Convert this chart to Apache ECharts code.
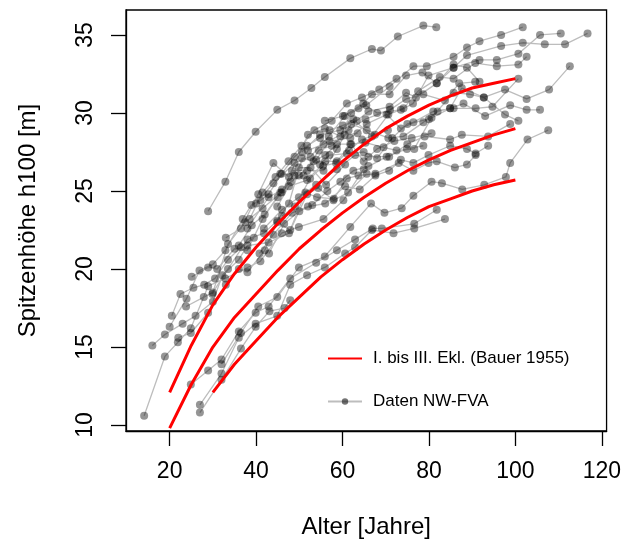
<!DOCTYPE html>
<html>
<head>
<meta charset="utf-8">
<script src="https://cdn.jsdelivr.net/npm/echarts@6/dist/echarts.min.js"></script>
<style>
  html, body { margin: 0; padding: 0; background: #fff; }
  #chart { width: 624px; height: 546px; }
</style>
</head>
<body>
<div id="chart"></div>
<script>
// tick labels
const xTicks = [20, 40, 60, 80, 100, 120];
const yTicks = [10, 15, 20, 25, 30, 35];

// Bauer (1955) Ertragsklassen I - III
const agesI = [20, 25, 30, 35, 40, 45, 50, 55, 60, 65, 70, 75, 80, 85, 90, 95, 100];
const hI = [12.1, 15.1, 17.7, 19.7, 21.4, 22.9, 24.3, 25.6, 26.9, 28.0, 29.0, 29.8, 30.5, 31.1, 31.6, 31.9, 32.2];
const agesII = [20, 25, 30, 35, 40, 45, 50, 55, 60, 65, 70, 75, 80, 85, 90, 95, 100];
const hII = [9.8, 12.6, 15.0, 16.9, 18.4, 19.9, 21.3, 22.5, 23.6, 24.6, 25.5, 26.3, 27.0, 27.6, 28.1, 28.6, 29.0];
const agesIII = [30, 35, 40, 45, 50, 55, 60, 65, 70, 75, 80, 85, 90, 95, 100];
const hIII = [12.1, 13.9, 15.4, 16.9, 18.2, 19.5, 20.6, 21.6, 22.5, 23.3, 24.0, 24.5, 25.0, 25.4, 25.7];

// Versuchsflaechen NW-FVA: [Alter, h100]
const plots = [
  [[28.9,23.7],[32.9,25.6],[36.0,27.5],[39.9,28.8],[44.9,30.2],[48.9,30.8],[52.8,31.6],[55.9,32.3],[61.8,33.5],[66.8,34.1],[68.9,34.0],[72.8,34.9],[78.7,35.6],[81.7,35.5]],
  [[14.1,10.6],[18.9,14.4],[21.9,15.3],[24.9,16.2],[28.9,18.9],[32.9,19.4],[38.0,20.1],[41.0,20.5],[45.9,22.3],[49.9,22.7],[55.6,23.2],[60.2,24.4],[64.9,26.4],[70.2,27.2],[74.9,27.7],[78.7,27.9]],
  [[16.0,15.1],[18.9,15.8],[23.0,16.5],[26.0,17.0],[30.0,17.9],[32.2,19.6],[36.0,20.6],[38.0,21.5],[42.9,21.7],[47.6,22.3],[51.8,24.8],[54.4,25.2],[57.9,24.4],[61.3,24.9],[65.6,26.1]],
  [[20.0,16.3],[23.9,18.1],[26.9,19.9],[30.0,20.3],[32.9,21.2],[36.9,23.2],[38.9,24.1],[41.0,24.4],[42.9,24.8],[45.9,26.1],[48.9,27.2],[51.8,27.9],[54.8,28.4],[57.0,28.9],[60.1,29.2],[63.3,29.5],[66.0,30.1],[70.9,30.4],[74.7,31.3],[77.0,31.0],[81.8,31.9],[85.7,32.9],[91.7,33.4],[95.7,33.4],[100.7,33.8],[105.7,35.0],[110.5,35.1]],
  [[23.8,17.6],[27.9,18.2],[30.0,18.5],[33.5,20.0],[38.0,21.9],[41.8,22.3],[44.9,23.1],[47.6,24.2],[50.6,27.1],[53.3,26.9],[56.0,27.3],[58.7,28.0],[61.8,28.0],[65.3,28.1],[69.5,27.8],[72.5,27.6],[76.6,27.7],[80.6,29.7],[85.7,31.3],[89.5,31.2],[92.7,31.0],[97.6,31.5],[102.6,30.9],[107.8,31.5],[112.6,33.0]],
  [[22.0,15.6],[24.9,15.9],[28.9,17.2],[33.0,19.0],[36.0,20.0],[38.0,19.8],[42.0,21.2],[44.9,23.0],[47.9,22.5],[51.4,24.9],[54.1,24.6],[58.0,24.5],[61.0,25.8],[63.7,26.0],[67.6,26.1],[73.0,26.8],[76.4,26.3],[79.9,26.8],[81.8,26.9],[86.0,26.5],[88.8,26.7],[90.8,27.3]],
  [[25.1,19.5],[28.9,20.1],[31.0,20.0],[35.0,21.3],[38.0,21.2],[41.5,23.2],[45.6,24.9],[49.9,26.5],[52.6,26.5],[56.2,25.4],[60.6,26.7]],
  [[29.9,18.4],[33.5,21.6],[37.5,23.0],[41.5,23.9],[45.9,24.9],[48.3,26.3],[51.8,26.3],[55.6,26.3],[58.7,27.7],[62.0,29.3],[65.6,28.9],[70.6,28.4],[74.1,28.5],[78.7,29.4],[82.0,30.1],[84.9,30.3],[87.6,31.6],[92.7,31.0],[97.6,29.9],[100.7,29.5]],
  [[33.0,22.0],[36.5,22.6],[40.5,24.8],[44.0,26.8],[47.6,25.9],[52.0,28.6],[55.9,29.0],[59.5,28.5],[62.0,30.0],[65.5,30.5],[70.9,31.7],[76.4,33.0],[79.5,33.0],[85.7,33.6],[88.8,34.2],[91.7,34.6],[96.7,35.0],[101.7,35.5]],
  [[40.0,24.2],[44.0,25.5],[48.9,26.8],[52.6,27.2],[56.8,28.5],[60.5,29.8],[64.8,30.6],[68.0,30.0],[73.5,30.2],[76.3,30.6],[79.9,32.4],[85.7,32.9],[88.8,33.7],[96.7,34.3],[101.7,34.5],[106.8,34.4],[111.5,34.4],[116.7,35.1]],
  [[38.0,22.6],[42.9,24.6],[46.0,25.1],[49.9,26.0],[53.9,27.0],[57.0,28.2],[61.8,28.4],[65.6,29.3],[70.2,29.9],[73.5,29.0],[76.4,29.4],[81.0,30.1],[85.7,30.3],[90.8,30.3],[94.7,30.4],[100.7,32.2]],
  [[41.8,22.6],[46.0,23.8],[49.9,24.6],[53.9,25.4],[58.7,26.4],[62.9,27.3],[66.0,27.2],[70.8,27.2],[75.0,28.0],[79.0,28.5],[84.9,28.3],[87.6,28.6],[93.7,28.5],[98.8,29.3]],
  [[44.9,24.0],[47.6,25.3],[51.8,25.7],[56.0,26.9],[58.7,26.9],[62.0,28.0],[64.9,26.9],[68.0,27.7],[72.0,28.2],[76.0,28.4],[80.6,28.7]],
  [[45.6,26.1],[48.9,26.0],[52.0,27.6],[55.6,28.0],[61.4,28.9],[65.3,29.6],[71.0,30.2],[74.7,30.9],[78.7,31.2],[83.7,30.8],[87.0,31.9],[90.7,32.0]],
  [[50.6,27.5],[54.8,28.6],[59.5,28.9],[62.5,29.6],[66.8,28.5],[70.6,29.9],[74.1,30.3],[77.5,31.4],[82.5,32.3],[85.7,32.2],[90.7,33.2],[95.7,33.0],[100.7,33.1],[102.6,33.6]],
  [[55.9,29.5],[60.1,29.8],[63.7,30.3],[66.8,31.2],[70.9,31.2],[74.7,32.4],[78.5,32.6],[81.8,31.9],[85.7,33.1],[88.8,32.9],[91.7,32.0]],
  [[54.8,26.7],[57.0,27.3],[61.0,27.4],[64.9,27.5],[68.0,27.1],[71.5,28.4],[75.0,29.3],[80.0,29.6],[84.9,30.3],[88.0,30.6],[93.0,29.8],[98.8,30.5],[102.6,30.2],[105.7,30.2]],
  [[24.9,12.6],[28.9,13.5],[32.0,14.2],[36.0,16.0],[39.9,17.2],[42.9,17.6],[47.9,19.4],[53.9,20.4],[58.7,21.2],[62.9,21.9],[67.0,22.6],[69.1,22.6],[76.6,22.9],[81.8,23.8]],
  [[27.0,11.3],[32.0,13.3],[36.0,15.6],[39.9,16.5],[44.9,17.0],[47.9,19.0],[51.8,19.6],[55.9,20.1],[60.6,21.0],[62.9,21.4],[66.8,22.5],[71.8,22.3],[76.6,22.6],[83.7,23.2]],
  [[32.0,13.9],[36.5,15.9],[40.5,17.6],[44.9,18.2],[49.9,20.1],[55.9,20.8],[61.8,22.7],[66.6,24.2],[69.7,23.6],[73.7,23.9],[76.4,24.7],[80.6,25.6],[83.0,25.5],[87.7,25.1],[92.8,25.4],[97.8,25.9],[98.8,26.8],[102.8,28.3],[107.6,28.9]],
  [[27.0,10.8],[32.0,12.9],[36.5,14.9],[39.9,16.3],[43.1,17.3],[46.6,17.5],[47.9,18.0]],
  [[40.8,21.0],[44.0,22.2],[48.3,23.6],[52.0,24.0],[56.0,24.2],[60.6,25.3],[64.0,25.1],[67.6,26.0],[70.8,26.3],[73.5,27.0],[76.4,26.8],[79.9,27.3],[84.9,27.9],[88.8,27.7],[90.8,27.4],[93.7,27.9]],
  [[36.0,21.5],[39.0,22.8],[42.0,23.5],[45.0,24.6],[48.0,25.6],[51.0,26.0],[54.5,27.6],[57.5,27.9],[60.5,28.6],[63.5,28.7]],
  [[38.5,23.2],[41.5,24.9],[44.5,25.9],[47.5,26.9],[50.5,27.9],[53.5,28.9],[57.5,29.5],[61.0,30.6],[64.5,31.0],[68.5,31.5],[72.5,32.2]],
  [[43.0,21.0],[46.5,22.9],[50.0,23.7],[53.0,24.1],[56.5,25.0],[59.5,25.6],[62.5,26.3],[66.0,26.6]],
  [[46.0,23.4],[49.0,24.0],[52.5,25.8],[55.5,26.6],[58.5,26.8],[61.5,27.6],[64.5,28.3],[67.5,28.6],[70.5,28.9]],
  [[20.5,17.0],[22.5,18.4],[25.5,18.8],[28.0,19.0],[30.5,19.4],[33.5,20.6],[36.5,21.4],[39.5,22.0]]
];

const FONT = '"Liberation Sans", Arial, sans-serif';
const bauerName = 'I. bis III. Ekl. (Bauer 1955)';
const dataName = 'Daten NW-FVA';

const zip = (a, b) => a.map((v, i) => [v, b[i]]);

const series = [];
plots.forEach(p => {
  series.push({
    type: 'line',
    name: dataName,
    data: p,
    symbol: 'circle',
    symbolSize: 7,
    showSymbol: false,
    lineStyle: { color: '#bdbdbd', width: 1.3 },
    itemStyle: { color: 'rgba(0,0,0,0.55)' },
    z: 2,
    silent: true
  });
});
// points on top of all the grey lines
series.push({
  type: 'scatter',
  name: 'punkte',
  data: plots.flat(),
  symbolSize: 8,
  itemStyle: { color: 'rgba(0,0,0,0.52)' },
  z: 3,
  silent: true
});
[[agesI, hI], [agesII, hII], [agesIII, hIII]].forEach(([a, h]) => {
  series.push({
    type: 'line',
    name: bauerName,
    data: zip(a, h),
    symbol: 'none',
    lineStyle: { color: '#ff0000', width: 3 },
    itemStyle: { color: '#ff0000' },
    z: 4,
    silent: true
  });
});

const chart = echarts.init(document.getElementById('chart'));
chart.setOption({
  animation: false,
  backgroundColor: '#fff',
  grid: { left: 126, right: 17, top: 10, bottom: 115, show: true, borderColor: '#000', borderWidth: 1.3, backgroundColor: 'transparent' },
  legend: {
    data: [
      { name: bauerName, itemStyle: { color: 'rgba(0,0,0,0)', borderWidth: 0 } },
      { name: dataName }
    ],
    orient: 'vertical',
    left: 322,
    top: 345,
    itemWidth: 34,
    itemHeight: 8,
    itemGap: 26,
    selectedMode: false,
    textStyle: { fontSize: 17, color: '#000', fontFamily: FONT, padding: [0, 0, 0, 6] }
  },
  xAxis: {
    type: 'value',
    min: 9.9,
    max: 121.1,
    name: 'Alter [Jahre]',
    nameLocation: 'middle',
    nameGap: 84,
    nameTextStyle: { fontSize: 24, color: '#000', fontFamily: FONT },
    axisLine: { show: true, onZero: false, lineStyle: { color: '#000', width: 1.3 } },
    axisTick: { show: true, length: 15, customValues: xTicks, lineStyle: { color: '#000', width: 1.3 } },
    axisLabel: { customValues: xTicks, fontSize: 23, color: '#000', margin: 29, fontFamily: FONT },
    splitLine: { show: false }
  },
  yAxis: {
    type: 'value',
    min: 9.62,
    max: 36.6,
    name: 'Spitzenhöhe h100 [m]',
    nameLocation: 'middle',
    nameGap: 86,
    nameTextStyle: { fontSize: 24, color: '#000', fontFamily: FONT },
    axisLine: { show: true, onZero: false, lineStyle: { color: '#000', width: 1.3 } },
    axisTick: { show: true, length: 15, customValues: yTicks, lineStyle: { color: '#000', width: 1.3 } },
    axisLabel: { customValues: yTicks, fontSize: 23, color: '#000', margin: 29, rotate: 90, fontFamily: FONT },
    splitLine: { show: false }
  },
  series: series
});
</script>
</body>
</html>
